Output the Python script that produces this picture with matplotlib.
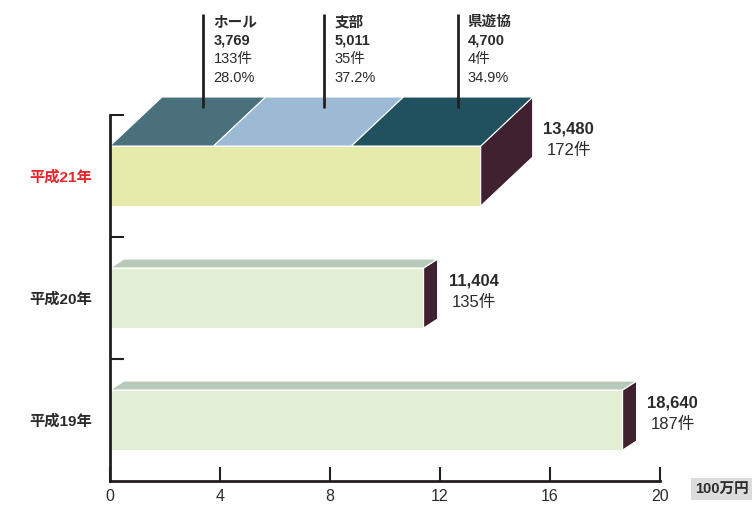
import matplotlib
matplotlib.use('Agg')
import matplotlib.pyplot as plt
from matplotlib.patches import Polygon

# ---- data ----
categories = ['平成19年', '平成20年', '平成21年']
totals = [18640, 11404, 13480]          # 万円
counts = [187, 135, 172]                # 件
seg_names = ['ホール', '支部', '県遊協']
seg_values = [3769, 5011, 4700]
seg_counts = [133, 35, 4]
seg_pcts = [28.0, 37.2, 34.9]
xticks = [0, 4, 8, 12, 16, 20]
unit_label = '100万円'

# ---- style ----
seg_colors = ['#4a707c', '#9dbad5', '#21505f']
front21 = '#e6eba9'
front_old = '#e2efd5'
top_old = '#b7c9b8'
side_col = '#40212f'
txt = '#2b2b2b'
red = '#e8252a'
axcol = '#231f20'
LAT = ['Liberation Sans', 'Noto Sans CJK JP', 'DejaVu Sans']
NARROW = ['Liberation Sans Narrow', 'Liberation Sans', 'DejaVu Sans']
plt.rcParams['font.family'] = LAT

W, H = 752, 508
fig = plt.figure(figsize=(W / 100, H / 100), dpi=100)
L, R, T, B = 110, 660, 115, 481
ax = fig.add_axes([L / W, 1 - B / H, (R - L) / W, (B - T) / H])
ax.set_xlim(0, 20)
ax.set_ylim(0, 3)
sx = (R - L) / 20.0
sy = (B - T) / 3.0


def poly(pts, fc, z=1):
    ax.add_patch(Polygon(pts, closed=True, facecolor=fc, edgecolor='white',
                         lw=0.8, clip_on=False, joinstyle='miter', zorder=z))


hh = 30 / sy
for i, (v, c) in enumerate(zip(totals, counts)):
    x1 = v / 1000.0
    yc = i + 0.5
    latest = (i == len(totals) - 1)
    if latest:
        dx, dy = 52 / sx, 49 / sy
        fcol = front21
    else:
        dx, dy = 14 / sx, 9 / sy
        fcol = front_old
    y0, y1 = yc - hh, yc + hh
    # front
    poly([(0, y0), (x1, y0), (x1, y1), (0, y1)], fcol)
    # side
    poly([(x1, y0), (x1 + dx, y0 + dy), (x1 + dx, y1 + dy), (x1, y1)], side_col)
    # top
    if latest:
        cum = 0.0
        for k, sv in enumerate(seg_values):
            a = cum / 1000.0
            b = (cum + sv) / 1000.0
            poly([(a, y1), (b, y1), (b + dx, y1 + dy), (a + dx, y1 + dy)], seg_colors[k])
            # leader line and labels
            xm = (a + b) / 2 + 0.8 * dx
            yb = (B - 108) / sy
            yt = (B - 14) / sy
            ax.plot([xm, xm], [yb, yt], color=axcol, lw=2, clip_on=False, zorder=3,
                    solid_capstyle='butt')
            lines = [(seg_names[k], 'bold'), (f'{sv:,}', 'bold'),
                     (f'{seg_counts[k]}件', 'normal'), (f'{seg_pcts[k]:.1f}%', 'normal')]
            for j, (s, w) in enumerate(lines):
                ax.annotate(s, xy=(xm, yt), xytext=(10, -8 - j * 18.7),
                            textcoords='offset pixels', ha='left', va='center',
                            fontsize=10.5, fontweight=w, color=txt,
                            annotation_clip=False)
            cum += sv
    else:
        poly([(0, y1), (x1, y1), (x1 + dx, y1 + dy), (dx, y1 + dy)], top_old)
    # right labels
    lx, ly = x1 + dx, yc + 0.75 * dy
    ax.annotate(f'{v:,}', xy=(lx, ly), xytext=(36, 10), textcoords='offset pixels',
                ha='center', va='center', fontsize=12, fontweight='bold', color=txt,
                annotation_clip=False)
    ax.annotate(f'{c}件', xy=(lx, ly), xytext=(36, -11), textcoords='offset pixels',
                ha='center', va='center', fontsize=12, color=txt,
                annotation_clip=False)

# ---- axes ----
for s in ['top', 'right']:
    ax.spines[s].set_visible(False)
for s in ['left', 'bottom']:
    ax.spines[s].set_color(axcol)
    ax.spines[s].set_linewidth(2)
    ax.spines[s].set_zorder(4)

ax.set_xticks(xticks)
ax.set_xticklabels([str(t) for t in xticks], fontfamily=NARROW, fontsize=11.5, color=txt)
ax.tick_params(axis='x', which='major', direction='in', length=10, width=1.5,
               color=axcol, pad=6)
ax.set_yticks([1, 2, 3])
ax.set_yticklabels([])
ax.tick_params(axis='y', which='major', direction='in', length=10, width=1.5, color=axcol)
ax.set_yticks([0.5, 1.5, 2.5], minor=True)
ax.set_yticklabels(categories, minor=True, fontsize=11, fontweight='bold', color=txt)
ax.tick_params(axis='y', which='minor', length=0, pad=13)
ylabs = ax.get_yticklabels(minor=True)
ylabs[-1].set_color(red)

fig.text(695 / W, 1 - 489 / H, unit_label, ha='left', va='center', fontsize=10.5,
         fontweight='bold', color=txt,
         bbox=dict(facecolor='#dcdcdc', edgecolor='none', boxstyle='square,pad=0.3'))

fig.savefig('out.png', dpi=100)
